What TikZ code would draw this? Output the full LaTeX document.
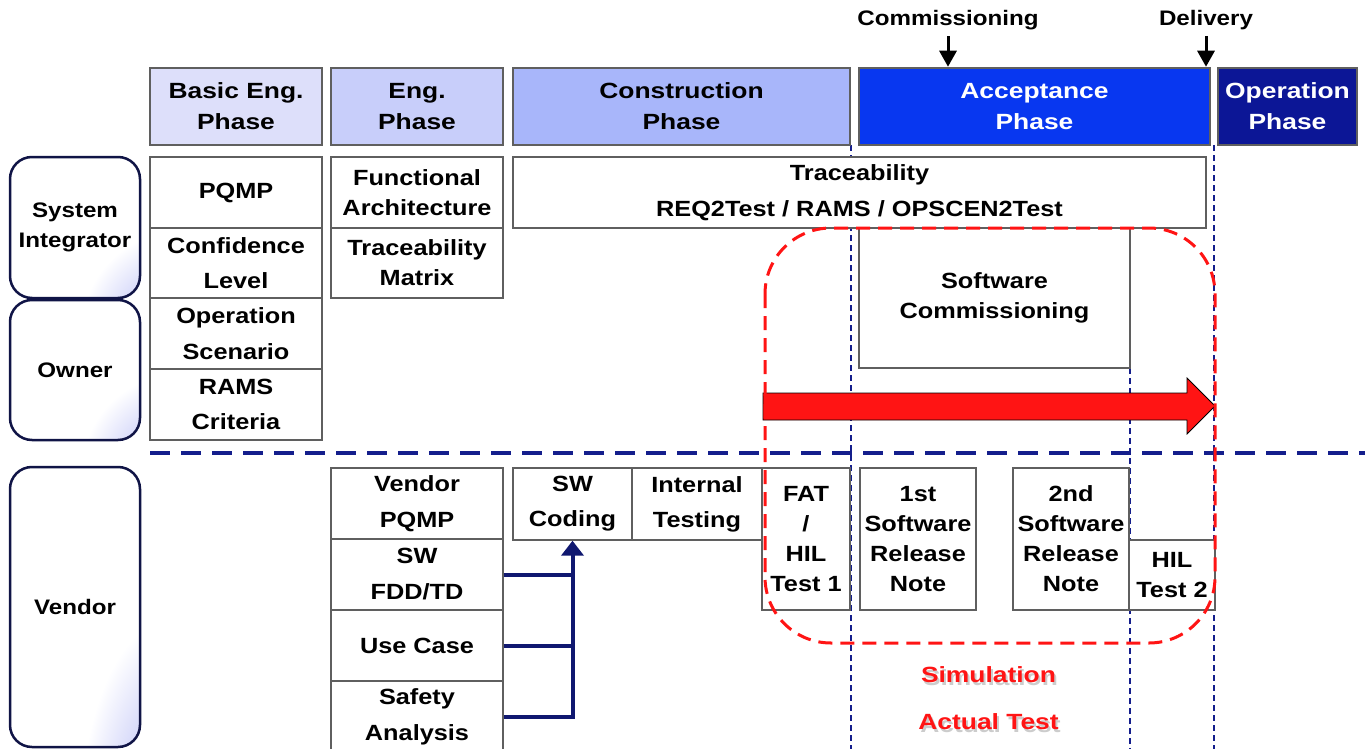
\documentclass[tikz,border=0pt]{standalone}
\usepackage{fontspec}
\setmainfont{Liberation Sans}[FakeStretch=1.15]
\newfontfamily\widefont{Liberation Sans}[FakeStretch=1.2]
\usetikzlibrary{arrows.meta}

\definecolor{navyline}{RGB}{20,30,140}
\definecolor{rolenavy}{RGB}{16,20,70}
\definecolor{cellgray}{RGB}{95,95,95}
\definecolor{basicfill}{RGB}{221,223,250}
\definecolor{engfill}{RGB}{200,206,250}
\definecolor{consfill}{RGB}{168,182,250}
\definecolor{accfill}{RGB}{8,55,240}
\definecolor{opfill}{RGB}{12,22,150}
\definecolor{alertred}{RGB}{255,20,20}
\definecolor{cornerblue}{RGB}{100,110,235}

% white box with a bluish glow in its lower right corner
\pgfdeclareradialshading{rolecorner}{\pgfpoint{50bp}{-50bp}}{%
  color(0bp)=(cornerblue); color(16bp)=(cornerblue!50!white);
  color(36bp)=(white); color(150bp)=(white)}

\tikzset{
  sz/.style 2 args={minimum width=#1, minimum height=#2},
  txt/.style={font=\fontsize{22}{#1}\selectfont\bfseries, align=center},
  phase/.style={draw=cellgray, line width=2.5pt, inner sep=0pt, align=center,
    font=\widefont\fontsize{22}{31}\selectfont\bfseries},
  role/.style={draw=rolenavy, line width=2.5pt, rounded corners=22pt, inner sep=0pt,
    shade, shading=rolecorner, align=center, font=\fontsize{21}{30}\selectfont\bfseries},
  cell/.style={draw=cellgray, line width=1.4pt, fill=white, inner sep=0pt, align=center},
  guide/.style={draw=navyline, line width=1.3pt, dash pattern=on 6pt off 4pt},
  divider/.style={draw=navyline, line width=3.5pt, dash pattern=on 20pt off 11pt},
  feed/.style={draw=navyline!80!black, line width=4pt},
  marker/.style={draw=black, line width=3pt, -{Triangle[width=17pt,length=16pt]}},
  milestone/.style={font=\fontsize{21}{24}\selectfont\bfseries, inner sep=0pt},
  redtext/.style={text=alertred, font=\widefont\fontsize{22}{30}\selectfont\bfseries},
  shadowtext/.style={text=black!20, font=\widefont\fontsize{22}{30}\selectfont\bfseries},
}

\begin{document}
\begin{tikzpicture}[x=1pt, y=-1pt]
\useasboundingbox (0,0) rectangle (1365,749);
\fill[white] (0,0) rectangle (1365,749);

% vertical phase guides
\coordinate (g1top) at (851,145);
\coordinate (g1bot) at (851,749);
\coordinate (g2top) at (1130,228);
\coordinate (g2bot) at (1130,749);
\coordinate (g3top) at (1214,145);
\coordinate (g3bot) at (1214,749);
\draw[guide] (g1top) -- (g1bot);
\draw[guide] (g2top) -- (g2bot);
\draw[guide] (g3top) -- (g3bot);

% organisation / vendor split
\coordinate (divl) at (150,453);
\coordinate (divr) at (1365,453);
\draw[divider] (divl) -- (divr);

% phase headers
\node[phase, fill=basicfill, sz={172}{77}] (hBasic) at (236,106.5) {Basic Eng.\\Phase};
\node[phase, fill=engfill, sz={172}{77}] (hEng) at (417,106.5) {Eng.\\Phase};
\node[phase, fill=consfill, sz={337}{77}] (hCons) at (681.5,106.5) {Construction\\Phase};
\node[phase, fill=accfill, text=white, sz={351}{77}] (hAcc) at (1034.5,106.5) {Acceptance\\Phase};
\node[phase, fill=opfill, text=white, sz={139}{77}] (hOp) at (1287.5,106.5) {Operation\\Phase};

% milestones
\node[milestone] (comm) at (948,20) {Commissioning};
\node[milestone] (deliv) at (1206,20) {Delivery};
\draw[marker] ([yshift=-6pt]comm.south) -- (comm.south |- hAcc.north);
\draw[marker] ([yshift=-6pt]deliv.south) -- (deliv.south |- hAcc.north);

% roles
\node[role, sz={130}{141}] (rSI) at (75,227.5) {System\\Integrator};
\node[role, sz={130}{140}] (rOwner) at (75,370) {Owner};
\node[role, sz={130}{280}] (rVendor) at (75,607) {Vendor};

% basic engineering deliverables
\node[cell, txt=35, sz={172}{71}] (pqmp) at (236,192.5) {PQMP};
\node[cell, txt=35, sz={172}{70}] (conf) at (236,263) {Confidence\\Level};
\node[cell, txt=36, sz={172}{71}] (opsc) at (236,333.5) {Operation\\Scenario};
\node[cell, txt=35, sz={172}{71}] (rams) at (236,404.5) {RAMS\\Criteria};

% engineering deliverables
\node[cell, txt=30, sz={172}{71}] (func) at (417,192.5) {Functional\\Architecture};
\node[cell, txt=30, sz={172}{70}] (tmat) at (417,263) {Traceability\\Matrix};

% traceability band
\node[cell, txt=36, sz={693}{71}] (trace) at (859.5,192.5) {Traceability\\REQ2Test / RAMS / OPSCEN2Test};
\node[cell, txt=30, sz={271}{140}] (swcomm) at (994.5,298) {Software\\Commissioning};

% vendor deliverables
\node[cell, txt=36, sz={172}{71}] (vpqmp) at (417,503.5) {Vendor\\PQMP};
\node[cell, txt=36, sz={172}{71}] (fdd) at (417,574.5) {SW\\FDD/TD};
\node[cell, txt=36, sz={172}{71}] (usecase) at (417,645.5) {Use Case};
\node[cell, txt=36, sz={172}{71}] (safety) at (417,716.5) {Safety\\Analysis};

\node[cell, txt=35, sz={119}{72}] (coding) at (572.5,504) {SW\\Coding};
\node[cell, txt=35, sz={130}{72}] (internal) at (697,504) {Internal\\Testing};
\node[cell, txt=30, sz={88}{142}] (fat) at (806,539) {FAT\\/\\HIL\\Test 1};
\node[cell, txt=30, sz={116}{142}] (rel1) at (918,539) {1st\\Software\\Release\\Note};
\node[cell, txt=30, sz={116}{142}] (rel2) at (1071,539) {2nd\\Software\\Release\\Note};
\node[cell, txt=30, sz={86}{70}] (hil2) at (1172,575) {HIL\\Test 2};

% design inputs feeding the coding step
\draw[feed] (fdd.east) -- (fdd.east -| coding.south);
\draw[feed] (usecase.east) -- (usecase.east -| coding.south);
\draw[feed, -{Triangle[width=22pt,length=15pt]}] (safety.east) -| (coding.south);

% simulation span
\fill[alertred, draw=black, line width=0.8pt]
  (763,393) -- (1187,393) -- (1187,378) -- (1215,406) -- (1187,434) -- (1187,420) -- (763,420) -- cycle;
\draw[alertred, line width=3pt, dash pattern=on 14pt off 8pt, rounded corners=66pt]
  (765,228) rectangle (1215,643);

% legend
\node[shadowtext] at (990.5,677.5) {Simulation};
\node[redtext] (sim) at (988.5,675) {Simulation};
\node[shadowtext] at (990.5,724.5) {Actual Test};
\node[redtext] (act) at (988.5,722) {Actual Test};
\end{tikzpicture}
\end{document}
